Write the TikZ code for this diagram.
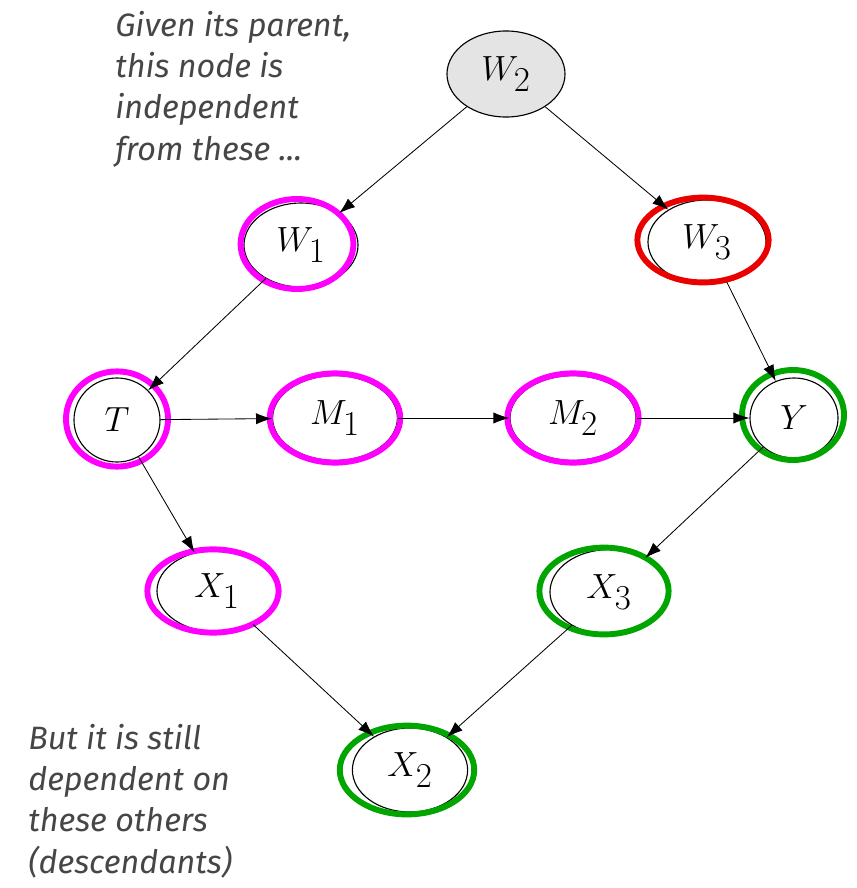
\documentclass[tikz,border=0pt]{standalone}
\usepackage{fontspec}
\newfontfamily\notefont{Fira Sans}
\usepackage{tikz}
\usetikzlibrary{shapes.geometric,arrows.meta}
\definecolor{ringmag}{RGB}{255,0,255}
\definecolor{ringred}{RGB}{235,0,0}
\definecolor{ringgreen}{RGB}{0,165,0}
\definecolor{notegray}{RGB}{70,70,70}
\definecolor{rootgray}{RGB}{228,228,228}

\begin{document}
\begin{tikzpicture}[
    x=0.025cm, y=-0.025cm,
    var/.style={ellipse, draw=black, line width=0.8pt, inner sep=0pt, font=\fontsize{33}{38}\selectfont},
    ring/.style={ellipse, draw=#1, line width=4.2pt, inner sep=0pt},
    arr/.style={-{Latex[length=0.4cm,width=0.28cm]}, line width=0.6pt},
    note/.style={font=\notefont\itshape\fontsize{23}{29.2}\selectfont, text=notegray, align=left, inner sep=0pt},
]
\useasboundingbox (0,0) rectangle (856,888);

\node[var, fill=rootgray, minimum width=2.95cm, minimum height=2.15cm] (w2) at (506,74) {$W_2$};
\node[var, minimum width=2.85cm, minimum height=2.1cm] (w1) at (301,245) {$W_1$};
\node[var, minimum width=2.95cm, minimum height=2.1cm] (w3) at (707,242) {$W_3$};
\node[var, minimum width=2.15cm, minimum height=2.1cm] (t) at (117,420) {$T$};
\node[var, minimum width=3.12cm, minimum height=2.12cm] (m1) at (335,418) {$M_1$};
\node[var, minimum width=3.15cm, minimum height=2.12cm] (m2) at (573,418) {$M_2$};
\node[var, minimum width=2.2cm, minimum height=2.0cm] (y) at (794,418) {$Y$};
\node[var, minimum width=3.0cm, minimum height=2.05cm] (x1) at (217,591) {$X_1$};
\node[var, minimum width=2.95cm, minimum height=2.12cm] (x3) at (609,592) {$X_3$};
\node[var, minimum width=2.88cm, minimum height=2.1cm] (x2) at (410,770) {$X_2$};

% rings round the nodes
\node[ring=ringmag, minimum width=2.82cm, minimum height=2.25cm] (w1ring) at (297,244) {};
\node[ring=ringred, minimum width=3.28cm, minimum height=2.12cm] (w3ring) at (703,240) {};
\node[ring=ringmag, minimum width=2.55cm, minimum height=2.38cm] (tring) at (117,419) {};
\node[ring=ringmag, minimum width=3.26cm, minimum height=2.23cm] (m1ring) at (335,418) {};
\node[ring=ringmag, minimum width=3.28cm, minimum height=2.23cm] (m2ring) at (573,418) {};
\node[ring=ringgreen, minimum width=2.55cm, minimum height=2.25cm] (yring) at (793,415) {};
\node[ring=ringmag, minimum width=3.28cm, minimum height=2.08cm] (x1ring) at (213,591) {};
\node[ring=ringgreen, minimum width=3.23cm, minimum height=2.17cm] (x3ring) at (604,591) {};
\node[ring=ringgreen, minimum width=3.36cm, minimum height=2.22cm] (x2ring) at (407,770) {};

\draw[arr] (w2) -- (w1);
\draw[arr] (w2) -- (w3);
\draw[arr] (w1) -- (t);
\draw[arr] (w3) -- (y);
\draw[arr] (t) -- (m1);
\draw[arr] (m1) -- (m2);
\draw[arr] (m2) -- (y);
\draw[arr] (t) -- (x1);
\draw[arr] (y) -- (x3);
\draw[arr] (x1) -- (x2);
\draw[arr] (x3) -- (x2);

% base anchor sits on the last line
\node[note, anchor=base west] (given) at (115,160) {Given its parent,\\this node is\\independent\\from these ...};
\node[note, anchor=base west] (still) at (28,873) {But it is still\\dependent on\\these others\\(descendants)};
\end{tikzpicture}
\end{document}
